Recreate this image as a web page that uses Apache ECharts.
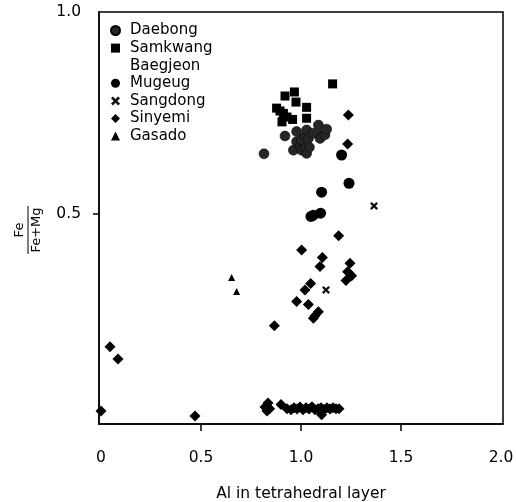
<!DOCTYPE html>
<html>
<head>
<meta charset="utf-8">
<script src="https://cdn.jsdelivr.net/npm/echarts@6/dist/echarts.min.js"></script>
<style>
  html, body { margin: 0; padding: 0; background: #fff; }
  #chart { width: 516px; height: 502px; }
</style>
</head>
<body>
<div id="chart"></div>
<script>
// 数据 (x: Al in tetrahedral layer, y: Fe/(Fe+Mg))
var daebong = [
  [0.815, 0.649], [0.92, 0.693], [0.962, 0.658], [0.978, 0.704], [0.978, 0.679],
  [0.995, 0.667], [1.003, 0.683], [1.003, 0.658], [1.02, 0.691], [1.02, 0.662],
  [1.028, 0.708], [1.028, 0.65], [1.037, 0.687], [1.042, 0.665], [1.087, 0.72],
  [1.098, 0.696], [1.095, 0.687], [1.12, 0.696], [1.128, 0.71], [1.06, 0.70]
];
var samkwang = [
  [1.158, 0.822], [0.967, 0.802], [0.975, 0.777], [1.028, 0.764], [1.028, 0.737], [0.958, 0.734]
];
var baegjeon = [
  [0.92, 0.792], [0.878, 0.762], [0.895, 0.755], [0.912, 0.749], [0.93, 0.74], [0.905, 0.728]
];
var mugeug = [
  [1.203, 0.646], [1.24, 0.576], [1.103, 0.554], [1.05, 0.494], [1.062, 0.497], [1.098, 0.502]
];
var sangdong = [
  [1.365, 0.52], [1.125, 0.312]
];
var sinyemi = [
  [1.237, 0.745], [1.233, 0.673], [1.188, 0.446], [1.003, 0.411], [1.107, 0.392],
  [1.095, 0.37], [1.245, 0.378], [1.233, 0.357], [1.253, 0.347], [1.225, 0.335],
  [1.048, 0.328], [1.02, 0.312], [1.037, 0.276], [0.978, 0.283], [1.087, 0.258],
  [1.07, 0.248], [1.062, 0.242], [0.867, 0.223], [0.045, 0.171], [0.085, 0.141],
  [0.0, 0.012], [0.47, 0.0],
  [0.82, 0.022], [0.835, 0.032], [0.83, 0.012], [0.843, 0.018], [0.9, 0.028],
  [0.93, 0.018], [0.95, 0.015], [0.965, 0.02], [0.98, 0.017], [0.995, 0.022],
  [1.01, 0.015], [1.025, 0.02], [1.04, 0.017], [1.055, 0.023], [1.07, 0.015],
  [1.085, 0.018], [1.1, 0.02], [1.103, 0.003], [1.115, 0.016], [1.13, 0.02],
  [1.145, 0.017], [1.16, 0.02], [1.175, 0.018], [1.19, 0.018]
];
var gasado = [
  [0.653, 0.343], [0.678, 0.308]
];

var xTicks = [0.5, 1.0, 1.5];
var xLabels = [0, 0.5, 1.0, 1.5, 2.0];
var yTicks = [0.5];
var yLabels = [0.5, 1.0];

var FONT = '"DejaVu Sans", sans-serif';
var crossPath = 'path://M0,2L2,0L5,3L8,0L10,2L7,5L10,8L8,10L5,7L2,10L0,8L3,5Z';

var chart = echarts.init(document.getElementById('chart'));

var option = {
  animation: false,
  textStyle: { fontFamily: FONT, color: '#000' },
  grid: {
    left: 99, right: 13, top: 12, bottom: 78,
    outerBoundsMode: 'none',
    show: true, borderColor: '#000', borderWidth: 1.5
  },
  legend: {
    orient: 'vertical',
    left: 110, top: 23, padding: 0,
    itemWidth: 9, itemHeight: 9, itemGap: 2.6,
    textStyle: { fontSize: 15, color: '#000', fontFamily: FONT, padding: [0, 0, 0, 5] },
    data: [
      { name: 'Daebong', icon: 'circle' },
      { name: 'Samkwang', icon: 'rect' },
      { name: 'Baegjeon', icon: 'rect', itemStyle: { opacity: 0 } },
      { name: 'Mugeug', icon: 'circle' },
      { name: 'Sangdong', icon: crossPath },
      { name: 'Sinyemi', icon: 'diamond' },
      { name: 'Gasado', icon: 'triangle' }
    ]
  },
  xAxis: {
    type: 'value', min: -0.01, max: 2.01,
    name: 'Al in tetrahedral layer', nameLocation: 'middle', nameGap: 62,
    nameTextStyle: { fontSize: 15.5, color: '#000', fontFamily: FONT },
    splitLine: { show: false },
    axisLine: { show: true, onZero: false, lineStyle: { color: '#000', width: 1.5 } },
    axisTick: { show: true, customValues: xTicks, length: 7, lineStyle: { color: '#000', width: 1.5 } },
    axisLabel: {
      customValues: xLabels, margin: 26, fontSize: 15.5, color: '#000', fontFamily: FONT,
      formatter: function (v) { return v === 0 ? '0' : v.toFixed(1); }
    }
  },
  yAxis: {
    type: 'value', min: -0.02, max: 1.0,
    splitLine: { show: false },
    axisLine: { show: true, onZero: false, lineStyle: { color: '#000', width: 1.5 } },
    axisTick: { show: true, customValues: yTicks, length: 6, lineStyle: { color: '#000', width: 1.5 } },
    axisLabel: {
      customValues: yLabels, margin: 18, fontSize: 15.5, color: '#000', fontFamily: FONT,
      formatter: function (v) { return v.toFixed(1); }
    }
  },
  // 纵轴名称：分数 Fe / (Fe+Mg)
  graphic: [
    { type: 'text', x: 20, y: 230, rotation: Math.PI / 2,
      style: { text: 'Fe', fill: '#000', font: '13px ' + FONT, textAlign: 'center', textVerticalAlign: 'middle' } },
    { type: 'line', shape: { x1: 28, y1: 206, x2: 28, y2: 254 }, style: { stroke: '#000', lineWidth: 1 } },
    { type: 'text', x: 37, y: 230, rotation: Math.PI / 2,
      style: { text: 'Fe+Mg', fill: '#000', font: '13px ' + FONT, textAlign: 'center', textVerticalAlign: 'middle' } }
  ],
  series: [
    { name: 'Daebong', type: 'scatter', data: daebong, symbol: 'circle', symbolSize: 10,
      itemStyle: { color: '#262626', borderColor: '#000', borderWidth: 0.5, opacity: 1 } },
    { name: 'Samkwang', type: 'scatter', data: samkwang, symbol: 'rect', symbolSize: 9,
      itemStyle: { color: '#000', opacity: 1 } },
    { name: 'Baegjeon', type: 'scatter', data: baegjeon, symbol: 'rect', symbolSize: 9,
      itemStyle: { color: '#000', opacity: 1 } },
    { name: 'Mugeug', type: 'scatter', data: mugeug, symbol: 'circle', symbolSize: 11,
      itemStyle: { color: '#000', opacity: 1 } },
    { name: 'Sangdong', type: 'scatter', data: sangdong, symbol: crossPath, symbolSize: 8,
      itemStyle: { color: '#111', opacity: 1 } },
    { name: 'Sinyemi', type: 'scatter', data: sinyemi, symbol: 'diamond', symbolSize: 11,
      itemStyle: { color: '#000', opacity: 1 } },
    { name: 'Gasado', type: 'scatter', data: gasado, symbol: 'triangle', symbolSize: 7,
      itemStyle: { color: '#000', opacity: 1 } }
  ]
};

chart.setOption(option);
</script>
</body>
</html>
